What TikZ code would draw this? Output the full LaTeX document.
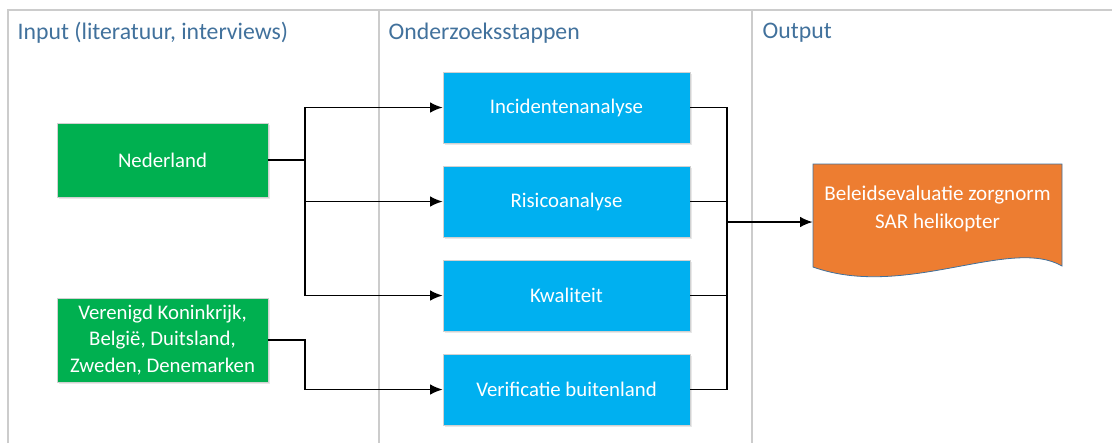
\documentclass[tikz,border=0pt]{standalone}
\usepackage{fontspec}
\setmainfont{Carlito}
\usepackage{tikz}
\usetikzlibrary{arrows.meta, shadows}
\definecolor{hdrblue}{RGB}{65,113,156}
\definecolor{nlgreen}{RGB}{0,176,80}
\definecolor{stepblue}{RGB}{0,176,240}
\definecolor{outorange}{RGB}{237,125,49}
\tikzstyle{inputbox} = [rectangle, minimum width=158.25pt, minimum height=55.5pt,
    text centered, align=center, fill=nlgreen, draw=black!18, text=white,
    font=\fontsize{15.6}{20}\selectfont,
    drop shadow={opacity=0.18, shadow xshift=1.2pt, shadow yshift=-1.5pt}]
\tikzstyle{stepbox} = [inputbox, minimum width=185.25pt, minimum height=53.5pt,
    fill=stepblue]
\tikzstyle{doctext} = [minimum width=186.75pt, align=center, text=white,
    font=\fontsize{15.8}{20.5}\selectfont]
\tikzstyle{header} = [anchor=west, text=hdrblue, font=\fontsize{17.8}{21}\selectfont]
\tikzstyle{frame} = [line width=1.3pt, black!20]
\tikzstyle{wire} = [line width=1.4pt]
\tikzstyle{arrow} = [wire,->,>={Latex[length=9.5pt,width=8pt]}]

\begin{document}
\begin{tikzpicture}[x=0.75pt, y=-0.75pt, node distance=70.5pt]
            \useasboundingbox (0,0) rectangle (1112,443);
            % Swimlanes
            \draw[frame] (8,443) -- (8,10) -- (1112,10);
            \draw[frame] (379,10) -- (379,443);
            \draw[frame] (752,10) -- (752,443);
            \node[header] (hin) at (13,33) {Input (literatuur, interviews)};
            \node[header] (hstep) at (384,33) {Onderzoeksstappen};
            \node[header] (hout) at (758,33) {Output};
            % Input
            \node[inputbox] (ned) at (162.5,160) {Nederland};
            \node[inputbox, minimum height=63pt, below of=ned, yshift=-64.5pt]
            (vk) {Verenigd Koninkrijk,\\Belgi\"e, Duitsland,\\Zweden, Denemarken};
            % Steps
            \node[stepbox] (inc) at (566.5,107.5) {Incidentenanalyse};
            \node[stepbox, below of=inc] (ris) {Risicoanalyse};
            \node[stepbox, below of=ris] (kwa) {Kwaliteit};
            \node[stepbox, below of=kwa] (ver) {Verificatie buitenland};
            % Output document
            \filldraw[fill=outorange, draw=hdrblue, line width=0.6pt]
            (813,164) -- (1062,164) -- (1062,266)
            .. controls (1010,236) and (905,300) .. (813,267) -- cycle;
            \node[doctext] (out) at (937.5,209)
            {Beleidsevaluatie zorgnorm\\SAR helikopter};
            % Arrows
            \coordinate (split) at (305,160);
            \coordinate (merge) at (727,222);
            \draw[wire] (ned.east) -- (split);
            \draw[arrow] (split) |- (inc.west);
            \draw[arrow] (split) |- (ris.west);
            \draw[arrow] (split) |- (kwa.west);
            \draw[arrow] (vk.east) -- (vk.east -| split) |- (ver.west);
            \draw[wire] (inc.east) -| (merge);
            \draw[wire] (ris.east) -| (merge);
            \draw[wire] (kwa.east) -| (merge);
            \draw[wire] (ver.east) -| (merge);
            \draw[arrow] (merge) -- (merge -| out.west);

        \end{tikzpicture}
\end{document}
